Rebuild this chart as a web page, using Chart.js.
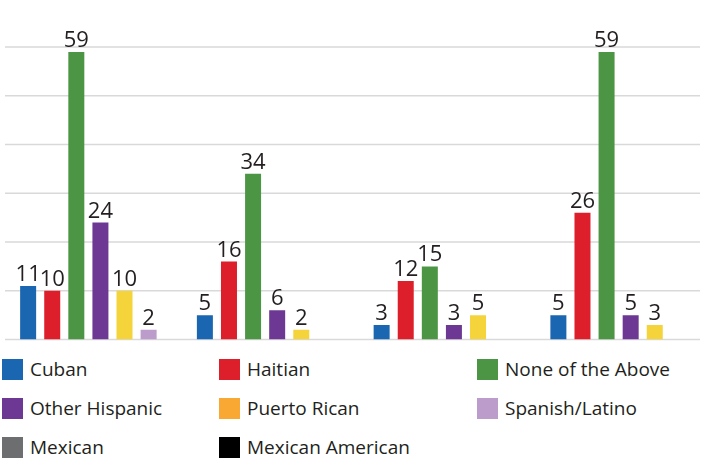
<!DOCTYPE html>
<html>
<head>
<meta charset="utf-8">
<script src="https://cdn.jsdelivr.net/npm/chart.js@4.4.1/dist/chart.umd.min.js"></script>
<style>
  html, body { margin: 0; padding: 0; background: #fff; overflow: hidden; width: 702px; height: 460px; }
  #wrap { position: absolute; left: 0; top: 0; width: 707px; height: 350px; }
  #legend { position: absolute; left: 0; top: 359px; width: 702px; font-family: "Open Sans", sans-serif; font-size: 19px; color: #231f20; }
  .item { position: absolute; height: 21px; line-height: 21px; white-space: nowrap; }
  .item span.box { position: absolute; left: 0; top: 0; width: 21px; height: 21px; }
  .item span.txt { position: absolute; left: 28px; top: 0; }
</style>
</head>
<body>
<div id="wrap"><canvas id="chart" width="707" height="350"></canvas></div>
<div id="legend"></div>
<script>

// groups along the x axis (no labels shown in the original)
var categories = ['Group 1', 'Group 2', 'Group 3', 'Group 4'];

// series, in legend order
var seriesNames = ['Cuban', 'Haitian', 'None of the Above', 'Other Hispanic',
                   'Puerto Rican', 'Spanish/Latino', 'Mexican', 'Mexican American'];

var cuban          = [11, 5, 3, 5];
var haitian        = [10, 16, 12, 26];
var noneOfAbove    = [59, 34, 15, 59];
var otherHispanic  = [24, 6, 3, 5];
var puertoRican    = [10, 2, 5, 3];
var spanishLatino  = [2, null, null, null];
var mexican        = [null, null, null, null];
var mexicanAmerican = [null, null, null, null];

var seriesValues = [cuban, haitian, noneOfAbove, otherHispanic,
                    puertoRican, spanishLatino, mexican, mexicanAmerican];

// bar colours and legend swatch colours (Puerto Rican swatch differs from its bars)
var barColors    = ['#1a66b0', '#dc1f2a', '#4c9545', '#6d3893', '#f5d43b', '#bc9cca', '#6d6e70', '#000000'];
var legendColors = ['#1a66b0', '#dc1f2a', '#4c9545', '#6d3893', '#f8a833', '#bc9cca', '#6d6e70', '#000000'];

var yTicks = [0, 10, 20, 30, 40, 50, 60];

// only series that have at least one value take a slot in the groups
var datasets = [];
seriesNames.forEach(function (name, i) {
    var vals = seriesValues[i];
    var hasData = vals.some(function (v) { return v !== null; });
    if (!hasData) return;
    datasets.push({
        label: name,
        data: vals,
        backgroundColor: barColors[i],
        borderWidth: 0,
        categoryPercentage: 0.818,
        barPercentage: 0.664
    });
});

// horizontal grid lines, drawn under the bars
var gridPlugin = {
    id: 'grid',
    beforeDatasetsDraw: function (chart) {
        var ctx = chart.ctx;
        var y = chart.scales.y;
        ctx.save();
        ctx.strokeStyle = '#d9d9d9';
        ctx.lineWidth = 1.5;
        yTicks.forEach(function (t) {
            var py = y.getPixelForValue(t);
            ctx.beginPath();
            ctx.moveTo(5, py);
            ctx.lineTo(700, py);
            ctx.stroke();
        });
        ctx.restore();
    }
};

// value labels above the bars
var labelPlugin = {
    id: 'valueLabels',
    afterDatasetsDraw: function (chart) {
        var ctx = chart.ctx;
        ctx.save();
        ctx.font = '22px "Open Sans", sans-serif';
        ctx.fillStyle = '#231f20';
        ctx.textAlign = 'center';
        ctx.textBaseline = 'alphabetic';
        chart.data.datasets.forEach(function (ds, di) {
            var meta = chart.getDatasetMeta(di);
            meta.data.forEach(function (bar, i) {
                var v = ds.data[i];
                if (v === null || v === undefined) return;
                ctx.fillText(String(v), bar.x, bar.y - 5);
            });
        });
        ctx.restore();
    }
};

var config = {
    type: 'bar',
    data: {
        labels: categories,
        datasets: datasets
    },
    options: {
        responsive: false,
        animation: false,
        layout: {
            padding: { left: 0, right: 0, top: 47, bottom: 10.5 }
        },
        plugins: {
            legend: { display: false },
            tooltip: { enabled: false }
        },
        scales: {
            x: { display: false },
            y: { display: false, min: 0, max: 60 }
        }
    },
    plugins: [gridPlugin, labelPlugin]
};

var ctx = document.getElementById('chart').getContext('2d');
window.myChart = new Chart(ctx, config);

// legend: three columns, built from the series arrays
var colX = [2, 219, 477];
var rowY = [0, 39, 78];
var legendEl = document.getElementById('legend');
seriesNames.forEach(function (name, i) {
    var item = document.createElement('div');
    item.className = 'item';
    item.style.left = colX[i % 3] + 'px';
    item.style.top = rowY[Math.floor(i / 3)] + 'px';
    var box = document.createElement('span');
    box.className = 'box';
    box.style.background = legendColors[i];
    var txt = document.createElement('span');
    txt.className = 'txt';
    txt.textContent = name;
    item.appendChild(box);
    item.appendChild(txt);
    legendEl.appendChild(item);
});
</script>
</body>
</html>
